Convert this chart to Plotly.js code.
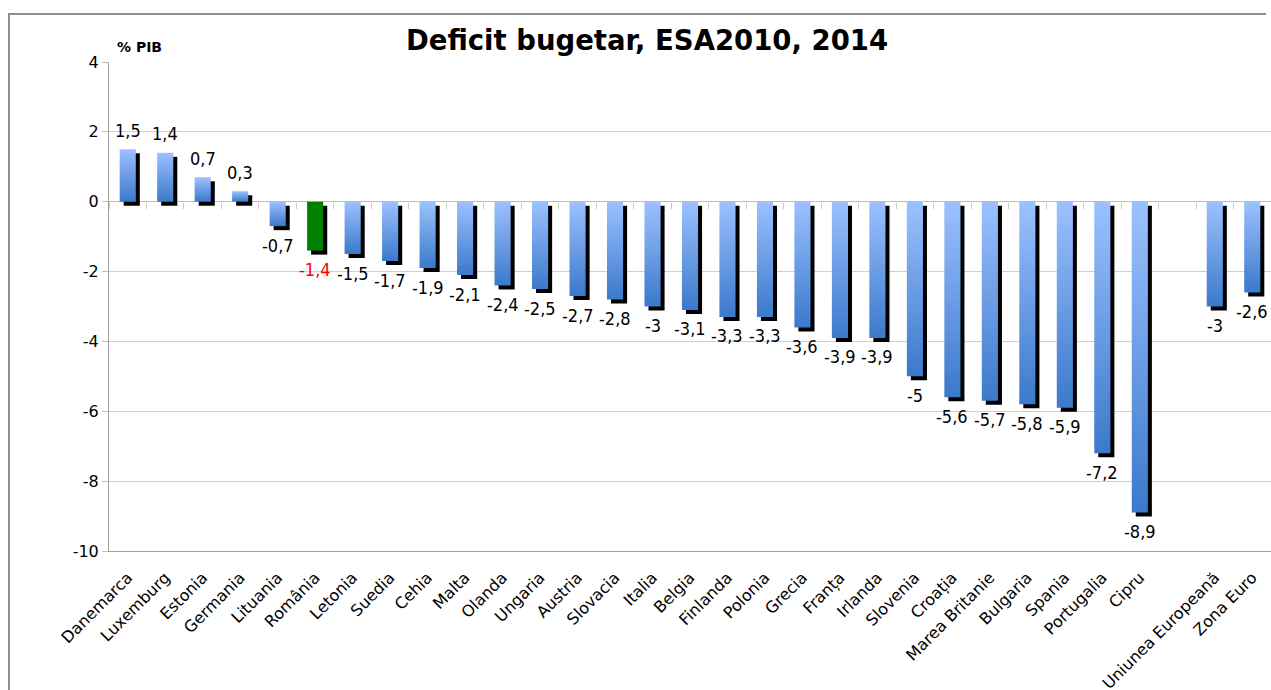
<!DOCTYPE html>
<html>
<head>
<meta charset="utf-8">
<script src="https://cdn.plot.ly/plotly-3.0.1.min.js"></script>
<style>
  html, body { margin: 0; padding: 0; background: #fff; overflow: hidden; }
  #wrap { position: relative; width: 1271px; height: 690px; overflow: hidden; }
  #chart { position: absolute; left: 0; top: 0; width: 1271px; height: 690px; }
  #frameL { position: absolute; left: 8px; top: 13px; width: 2px; height: 677px; background: #8f8f8f; pointer-events: none; }
  #frameT { position: absolute; left: 8px; top: 13px; width: 1258px; height: 2px; background: #8f8f8f; pointer-events: none; }
</style>
</head>
<body>
<div id="wrap">
  <div id="chart"></div>
  <div id="frameL"></div>
  <div id="frameT"></div>
</div>
<script>
// ---- data ----
const countries = ['Danemarca','Luxemburg','Estonia','Germania','Lituania','România','Letonia','Suedia','Cehia','Malta','Olanda','Ungaria','Austria','Slovacia','Italia','Belgia','Finlanda','Polonia','Grecia','Franța','Irlanda','Slovenia','Croația','Marea Britanie','Bulgaria','Spania','Portugalia','Cipru'];
const countryValues = [1.5,1.4,0.7,0.3,-0.7,-1.4,-1.5,-1.7,-1.9,-2.1,-2.4,-2.5,-2.7,-2.8,-3,-3.1,-3.3,-3.3,-3.6,-3.9,-3.9,-5,-5.6,-5.7,-5.8,-5.9,-7.2,-8.9];
const aggregates = ['Uniunea Europeană','Zona Euro'];
const aggregateValues = [-3,-2.6];
const highlight = 'România';
const yTickVals = [4,2,0,-2,-4,-6,-8,-10];
const yTickText = ['4','2','0','-2','-4','-6','-8','-10'];

// ---- build ----
const gap = ' ';
const cats = countries.concat([gap]).concat(aggregates);
const vals = countryValues.concat([null]).concat(aggregateValues);
const fmt = v => String(v).replace('.', ',');

const FONT = '"DejaVu Sans", sans-serif';
const FONTC = '"DejaVu Sans Condensed", "DejaVu Sans", sans-serif';
const W = 0.43;
const SHIFT_X = 0.107;
const SHIFT_Y = 0.115;

const barColors = cats.map(c => c === highlight ? '#008000' : '#6e9de6');

const shadow = {
  type: 'bar', x: cats, y: vals, base: vals.map(v => v === null ? null : -SHIFT_Y),
  width: W, offset: -W/2 + SHIFT_X,
  marker: { color: '#000000', line: { width: 0 } },
  hoverinfo: 'skip', showlegend: false
};
const main = {
  type: 'bar', x: cats, y: vals,
  width: W, offset: -W/2,
  marker: { color: barColors, line: { width: 0 } },
  hoverinfo: 'skip', showlegend: false
};
const tickHelper = {
  type: 'scatter', mode: 'none', x: cats, y: cats.map(() => 0),
  xaxis: 'x2', yaxis: 'y', hoverinfo: 'skip', showlegend: false
};

const annotations = [];
cats.forEach((c, i) => {
  const v = vals[i];
  if (v === null) return;
  annotations.push({
    x: c, y: v, xref: 'x', yref: 'y', text: fmt(v), showarrow: false,
    yanchor: 'middle', xanchor: 'center',
    yshift: v >= 0 ? 19 : -19,
    font: { family: FONTC, size: 18, color: c === highlight ? '#ff0000' : '#000000' }
  });
});
annotations.push({
  xref: 'paper', yref: 'paper', x: 0.005, y: 1 + 15/489, xanchor: 'left', yanchor: 'middle',
  text: '<b>% PIB</b>', showarrow: false, font: { family: FONT, size: 14, color: '#000' }
});

const layout = {
  width: 1271, height: 690,
  margin: { l: 109, r: 0, t: 62, b: 139 },
  paper_bgcolor: '#ffffff', plot_bgcolor: '#ffffff',
  barmode: 'overlay',
  title: {
    text: '<b>Deficit bugetar, ESA2010, 2014</b>',
    x: 647/1271, xref: 'container', xanchor: 'center',
    y: 1 - 40/690, yref: 'container', yanchor: 'middle',
    font: { family: FONT, size: 27.5, color: '#000' }
  },
  xaxis: {
    type: 'category', categoryorder: 'array', categoryarray: cats,
    range: [-0.5, cats.length - 0.5],
    tickangle: -45, ticks: '', showgrid: false,
    ticklabelstandoff: 10,
    showline: true, linecolor: '#a0a0a0', linewidth: 1,
    tickfont: { family: FONT, size: 16, color: '#000' },
    fixedrange: true
  },
  xaxis2: {
    type: 'category', overlaying: 'x', matches: 'x', anchor: 'free',
    position: 10/14, side: 'bottom',
    ticks: 'outside', tickson: 'boundaries', ticklen: 6, tickcolor: '#c8c8c8', tickwidth: 1,
    showticklabels: false, showgrid: false, showline: false, zeroline: false
  },
  yaxis: {
    range: [-10, 4], tickvals: yTickVals, ticktext: yTickText,
    showgrid: true, gridcolor: '#cfcfcf', gridwidth: 1,
    zeroline: true, zerolinecolor: '#bdbdbd', zerolinewidth: 1,
    showline: true, linecolor: '#a0a0a0', linewidth: 1,
    ticks: 'outside', ticklen: 6, tickcolor: '#bdbdbd',
    tickfont: { family: FONT, size: 16, color: '#000' },
    fixedrange: true
  },
  annotations: annotations,
  showlegend: false
};

Plotly.newPlot('chart', [shadow, main, tickHelper], layout, { staticPlot: true, displayModeBar: false })
.then(gd => {
  const svg = gd.querySelector('svg.main-svg');
  const NS = 'http://www.w3.org/2000/svg';
  let defs = svg.querySelector('defs');
  if (!defs) { defs = document.createElementNS(NS, 'defs'); svg.insertBefore(defs, svg.firstChild); }
  const grad = document.createElementNS(NS, 'linearGradient');
  grad.setAttribute('id', 'barGrad');
  grad.setAttribute('x1', '0'); grad.setAttribute('y1', '0');
  grad.setAttribute('x2', '0'); grad.setAttribute('y2', '1');
  [['0%', '#9cc1ff'], ['100%', '#3b79cb']].forEach(([o, c]) => {
    const s = document.createElementNS(NS, 'stop');
    s.setAttribute('offset', o); s.setAttribute('stop-color', c);
    grad.appendChild(s);
  });
  defs.appendChild(grad);
  const traces = gd.querySelectorAll('.barlayer .trace');
  const mainTrace = traces[1];
  if (mainTrace) {
    mainTrace.querySelectorAll('.point path').forEach(p => {
      const f = p.style.fill || '';
      if (f.indexOf('0, 128, 0') === -1 && f.indexOf('008000') === -1) {
        p.style.fill = 'url(#barGrad)';
      }
    });
  }
});
</script>
</body>
</html>
